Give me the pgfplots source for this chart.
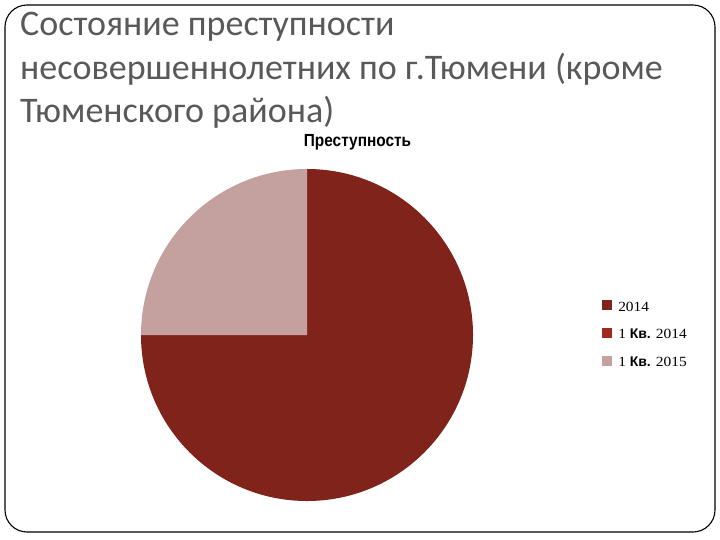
\documentclass[border=0pt]{standalone}
\usepackage{pgfplots}
\usepackage{pgfplotstable}
\pgfplotsset{compat=1.18}
\usepackage{fontspec}
\setmainfont{Carlito}
\newfontfamily\legserif[FakeStretch=1.1]{Liberation Serif}
\newfontfamily\legsans{Liberation Sans}
\newcommand\legfont{\legserif\fontsize{14bp}{14bp}\selectfont}

\definecolor{titlegray}{HTML}{595959}
\definecolor{sliceA}{HTML}{80231A}
\definecolor{sliceB}{HTML}{A0281E}
\definecolor{sliceC}{HTML}{C4A09E}

% share of each period in the pie
\pgfplotstableread{
period value
A 3
B 0
C 1
}\crimedata

\pgfplotstablegetelem{0}{value}\of\crimedata \edef\va{\pgfplotsretval}
\pgfplotstablegetelem{1}{value}\of\crimedata \edef\vb{\pgfplotsretval}
\pgfplotstablegetelem{2}{value}\of\crimedata \edef\vc{\pgfplotsretval}
\pgfmathsetmacro\total{\va+\vb+\vc}
\pgfmathsetmacro\aA{90}
\pgfmathsetmacro\aB{\aA-360*\va/\total}
\pgfmathsetmacro\aC{\aB-360*\vb/\total}
\pgfmathsetmacro\aD{\aC-360*\vc/\total}

\begin{document}
\begin{tikzpicture}[x=1bp,y=1bp]
\path[use as bounding box] (0,0) rectangle (720,-540);
\draw[line width=1.1bp, rounded corners=22bp] (5,-5) rectangle (715,-532);

\begin{scope}[every node/.style={anchor=base west, inner sep=0pt, text=titlegray,
      font=\fontsize{36bp}{43.4bp}\selectfont}]
\node at (20,-36) {Состояние преступности};
\node at (20,-79.3) {несовершеннолетних по г.Тюмени (кроме};
\node at (20,-122.7) {Тюменского района)};
\end{scope}

\node[inner sep=0pt] at (357.5,-142)
  {\scalebox{0.88}[1]{\legsans\bfseries\fontsize{17.5bp}{18bp}\selectfont Преступность}};

\begin{axis}[
    at={(141bp,-501bp)}, anchor=south west,
    scale only axis,
    width=332bp, height=332bp,
    xmin=-1, xmax=1, ymin=-1, ymax=1,
    hide axis,
    clip=false,
    legend style={
        at={(axis description cs:1.389,0.6325)}, anchor=north west,
        draw=none, fill=none,
        row sep=0pt, inner sep=0pt,
        nodes={inner sep=0pt, text height=20bp, text depth=7.7bp},
        /tikz/every odd column/.append style={column sep=7bp},
    },
    legend cell align=left,
    legend image code/.code={\fill[#1] (0bp,-4.25bp) rectangle (8.5bp,4.75bp);},
]
\fill[sliceA] (axis cs:0,0) -- ++(\aA:166bp) arc[start angle=\aA, end angle=\aB, radius=166bp] -- cycle;
\fill[sliceB] (axis cs:0,0) -- ++(\aB:166bp) arc[start angle=\aB, end angle=\aC, radius=166bp] -- cycle;
\fill[sliceC] (axis cs:0,0) -- ++(\aC:166bp) arc[start angle=\aC, end angle=\aD, radius=166bp] -- cycle;

\addlegendimage{sliceA}
\addlegendentry{\legfont 2014}
\addlegendimage{sliceB}
\addlegendentry{\legfont 1 {\legsans\bfseries Кв.} 2014}
\addlegendimage{sliceC}
\addlegendentry{\legfont 1 {\legsans\bfseries Кв.} 2015}
\end{axis}
\end{tikzpicture}
\end{document}
